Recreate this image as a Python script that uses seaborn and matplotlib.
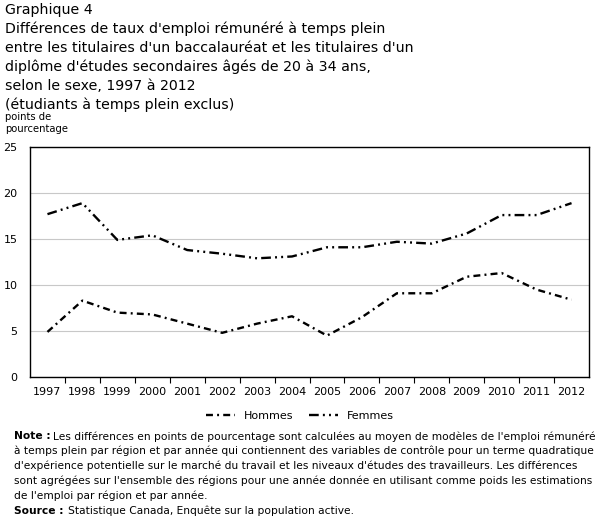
import matplotlib
matplotlib.use("Agg")
import matplotlib.pyplot as plt
import seaborn as sns
import pandas as pd
from matplotlib.lines import Line2D
from matplotlib.ticker import FixedLocator, NullFormatter

# Chart data
years = list(range(1997, 2013))
hommes = [4.9, 8.3, 7.0, 6.8, 5.8, 4.8, 5.8, 6.6, 4.5, 6.5, 9.1, 9.1, 10.9, 11.3, 9.5, 8.4]
femmes = [17.7, 18.9, 14.9, 15.4, 13.8, 13.4, 12.9, 13.1, 14.1, 14.1, 14.7, 14.5, 15.6, 17.6, 17.6, 18.9]
y_ticks = [0, 5, 10, 15, 20, 25]

title = ("Graphique 4\n"
         "Différences de taux d'emploi rémunéré à temps plein\n"
         "entre les titulaires d'un baccalauréat et les titulaires d'un\n"
         "diplôme d'études secondaires âgés de 20 à 34 ans,\n"
         "selon le sexe, 1997 à 2012\n"
         "(étudiants à temps plein exclus)")
note_first = "Les différences en points de pourcentage sont calculées au moyen de modèles de l'emploi rémunéré"
note_rest = ("à temps plein par région et par année qui contiennent des variables de contrôle pour un terme quadratique\n"
             "d'expérience potentielle sur le marché du travail et les niveaux d'études des travailleurs. Les différences\n"
             "sont agrégées sur l'ensemble des régions pour une année donnée en utilisant comme poids les estimations\n"
             "de l'emploi par région et par année.")
source = "Statistique Canada, Enquête sur la population active."

sns.set_style("white")
plt.rcParams['font.family'] = ['DejaVu Sans']
plt.rcParams['lines.scale_dashes'] = False
plt.rcParams['text.color'] = 'black'
plt.rcParams['xtick.color'] = 'black'
plt.rcParams['ytick.color'] = 'black'

dash_h = (5, 3, 1.4, 3)
dash_f = (7, 3, 1.4, 3, 1.4, 3)

df = pd.DataFrame({
    'annee': years * 2,
    'valeur': hommes + femmes,
    'sexe': ['Hommes'] * len(years) + ['Femmes'] * len(years),
})

fig = plt.figure(figsize=(6.07, 5.31), dpi=100)
ax = fig.add_axes([30 / 607, 1 - 377 / 531, 559 / 607, 230 / 531])

sns.lineplot(data=df, x='annee', y='valeur', hue='sexe', style='sexe',
             palette={'Hommes': 'black', 'Femmes': 'black'},
             dashes={'Hommes': dash_h, 'Femmes': dash_f},
             linewidth=1.7, ax=ax, legend=False)

ax.set_xlim(1996.5, 2012.5)
ax.set_ylim(0, 25)
ax.set_yticks(y_ticks)
ax.set_yticklabels([str(t) for t in y_ticks], fontsize=8)
ax.yaxis.grid(True, color='#c8c8c8', linewidth=0.8)
ax.set_axisbelow(True)
ax.tick_params(axis='y', length=0, pad=9)

# category boundaries as ticks, labels at category centres
ax.xaxis.set_major_locator(FixedLocator([y + 0.5 for y in years[:-1]]))
ax.xaxis.set_major_formatter(NullFormatter())
ax.xaxis.set_minor_locator(FixedLocator(years))
ax.set_xticklabels([str(y) for y in years], minor=True, fontsize=8)
ax.tick_params(axis='x', which='major', length=4, width=0.8, direction='out', bottom=True)
ax.tick_params(axis='x', which='minor', length=0, pad=7)
ax.set_xlabel('')
ax.set_ylabel('')
for s in ax.spines.values():
    s.set_color('black')
    s.set_linewidth(1.0)

# legend
handles = [Line2D([], [], color='black', linewidth=1.7, dashes=dash_h),
           Line2D([], [], color='black', linewidth=1.7, dashes=dash_f)]
fig.legend(handles, ['Hommes', 'Femmes'], loc='center', bbox_to_anchor=(300 / 607, 1 - 416 / 531),
           ncol=2, frameon=False, fontsize=8, handlelength=2.6, columnspacing=1.4, handletextpad=0.8)

# texts
fig.text(5 / 607, 1 - 3 / 531, title, ha='left', va='top', fontsize=10.2, linespacing=1.42)
fig.text(5 / 607, 1 - 112 / 531, "points de\npourcentage", ha='left', va='top', fontsize=7.2, linespacing=1.2)
fig.text(14 / 607, 1 - 431 / 531, "Note :", ha='left', va='top', fontsize=7.7, fontweight='bold')
fig.text(53 / 607, 1 - 431 / 531, note_first, ha='left', va='top', fontsize=7.7)
fig.text(14 / 607, 1 - 446 / 531, note_rest, ha='left', va='top', fontsize=7.7, linespacing=1.52)
fig.text(14 / 607, 1 - 506 / 531, "Source :", ha='left', va='top', fontsize=7.7, fontweight='bold')
fig.text(68 / 607, 1 - 506 / 531, source, ha='left', va='top', fontsize=7.7)

fig.savefig('out.png', dpi=100)
